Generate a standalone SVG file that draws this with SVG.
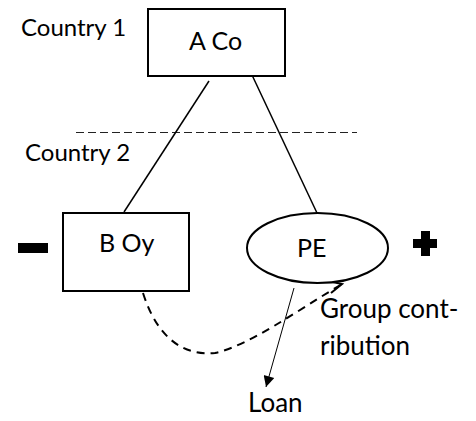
<svg xmlns="http://www.w3.org/2000/svg" width="476" height="421" viewBox="0 0 476 421">
<defs>
<style>
text{font-family:Lato,"Open Sans","Liberation Sans",sans-serif;font-size:25px;fill:#000}
.lbl{font-size:24px}
.big{font-size:26px}
.box{fill:#fff;stroke:#000;stroke-width:2}
.ln{stroke:#000;stroke-width:1.5;fill:none}
</style>
<marker id="tri" viewBox="0 0 10 10" refX="10" refY="5" markerWidth="14" markerHeight="11" markerUnits="userSpaceOnUse" orient="auto">
<path d="M0,0 L10,5 L0,10 Z" fill="#000"/>
</marker>
</defs>
<rect width="476" height="421" fill="#fff"/>
<text class="lbl" x="21" y="36">Country 1</text>
<text class="lbl" x="25" y="161">Country 2</text>
<line x1="76" y1="132.5" x2="357" y2="132.5" stroke="#222" stroke-width="1" stroke-dasharray="8,4"/>
<g id="connectors">
<line class="ln" x1="209" y1="81" x2="124" y2="212"/>
<line class="ln" x1="252" y1="75" x2="317" y2="213"/>
<path d="M143,293 C158,340 185,356 215,353 C250,345 295,312 342,284" fill="none" stroke="#000" stroke-width="2" stroke-dasharray="8,6"/>
<path d="M323,280 L342,284 L331,293" fill="none" stroke="#000" stroke-width="2"/>
<line x1="294" y1="288" x2="266" y2="387" stroke="#000" stroke-width="1" marker-end="url(#tri)"/>
</g>
<g id="aco">
<rect class="box" x="148" y="9" width="137" height="67"/>
<text x="189" y="50">A Co</text>
</g>
<g id="boy">
<rect class="box" x="63" y="213" width="126" height="78"/>
<text x="99" y="252">B Oy</text>
</g>
<g id="pe">
<ellipse class="box" cx="317.5" cy="248" rx="70.5" ry="35"/>
<text x="297" y="257">PE</text>
</g>
<g id="minus"><rect x="18" y="243" width="30" height="10" fill="#000"/></g>
<g id="plus"><path d="M421,231 H430 V239 H437 V248 H430 V256 H421 V248 H413 V239 H421 Z" fill="#000"/></g>
<text class="big" x="320" y="318">Group cont-</text>
<text class="big" x="320" y="355">ribution</text>
<text class="big" x="248" y="412">Loan</text>
</svg>
